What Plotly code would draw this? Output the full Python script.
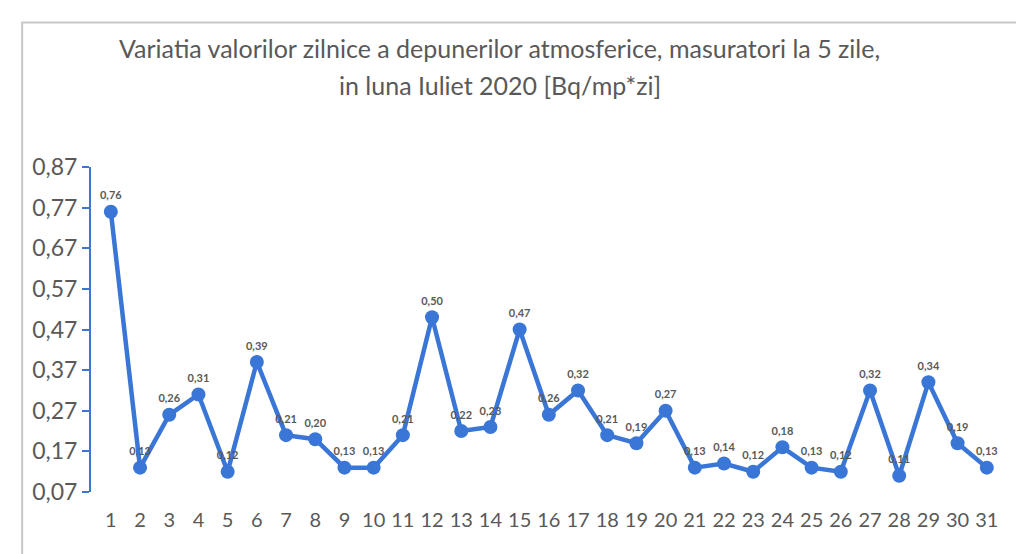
import plotly.graph_objects as go

days = list(range(1, 32))
values = [0.76, 0.13, 0.26, 0.31, 0.12, 0.39, 0.21, 0.20, 0.13, 0.13,
          0.21, 0.50, 0.22, 0.23, 0.47, 0.26, 0.32, 0.21, 0.19, 0.27,
          0.13, 0.14, 0.12, 0.18, 0.13, 0.12, 0.32, 0.11, 0.34, 0.19, 0.13]
y_ticks = [0.07, 0.17, 0.27, 0.37, 0.47, 0.57, 0.67, 0.77, 0.87]
title_lines = ["Variatia valorilor zilnice a depunerilor atmosferice, masuratori la 5 zile,",
               "in luna Iuliet 2020 [Bq/mp*zi]"]

labels = [f"{v:.2f}".replace(".", ",") for v in values]
blue = "#3a76d6"
grey = "#595959"

fig = go.Figure()
fig.add_trace(go.Scatter(
    x=days, y=values, mode="lines+markers+text",
    line=dict(color=blue, width=4.5),
    marker=dict(color=blue, size=14),
    text=labels, textposition="top center",
    textfont=dict(family="Lato", size=11, color=grey, weight="bold"),
    cliponaxis=False,
))

fig.update_layout(
    width=1024, height=554,
    margin=dict(l=83, r=23, t=159, b=70),
    paper_bgcolor="white", plot_bgcolor="white",
    separators=",.",
    showlegend=False,
    xaxis=dict(range=[0.32, 31.76], tickmode="array", tickvals=days,
               ticktext=[str(d) for d in days], showgrid=False, zeroline=False,
               showline=False, ticks="", ticklabelstandoff=14,
               tickfont=dict(family="Lato", size=20, color=grey)),
    yaxis=dict(range=[0.07, 0.87], tickmode="array", tickvals=y_ticks,
               ticktext=[f"{t:.2f}".replace(".", ",") for t in y_ticks],
               showgrid=False, zeroline=False, showline=True, linecolor=blue, linewidth=2,
               ticks="outside", ticklen=7, tickcolor=blue, tickwidth=2,
               tickfont=dict(family="Lato", size=23, color=grey)),
)
for txt, yp in zip(title_lines, [1.366, 1.252]):
    fig.add_annotation(text=txt, xref="paper", yref="paper", x=0.4455, y=yp,
                       xanchor="center", yanchor="middle", showarrow=False,
                       font=dict(family="Lato", size=25, color=grey))
fig.add_shape(type="rect", xref="paper", yref="paper", x0=-0.075, x1=1.012, y0=-0.24, y1=1.445,
              line=dict(color="#c8c8c8", width=2))
fig.write_html("out.html")
